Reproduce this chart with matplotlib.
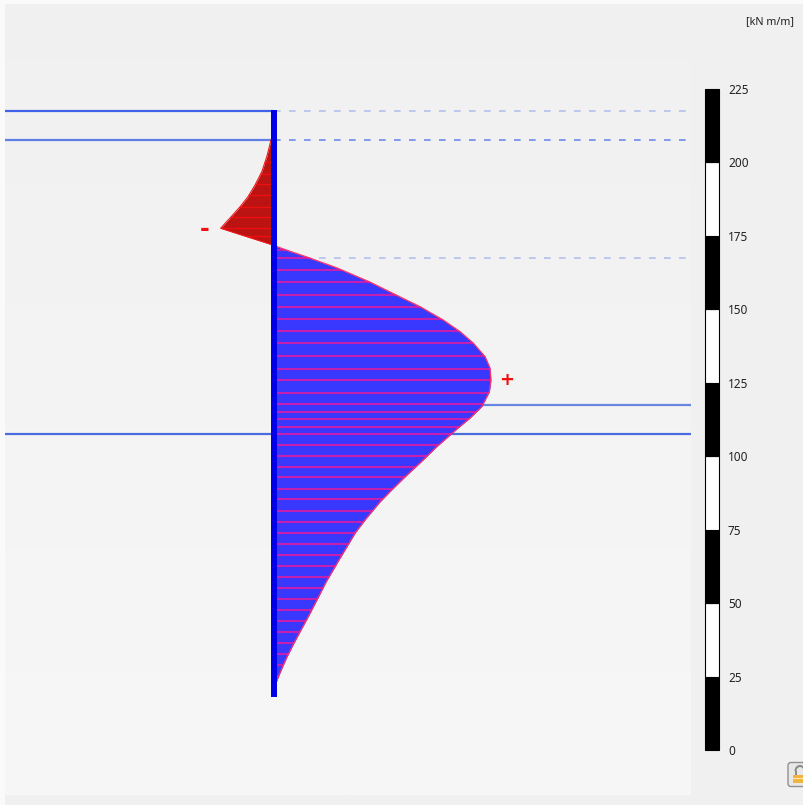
import matplotlib
matplotlib.use("Agg")
import matplotlib.pyplot as plt
import numpy as np
from matplotlib.patches import Arc, FancyBboxPatch, Rectangle

# everything is in units of the scale bar, depth 0 is the bottom of the bar
PX = 661 / 225
WALL_PX = 273.5
ZERO_PX = 750

# moment diagram, positive lobe
pos_depth = [171.9, 171.6, 170.2, 167.8, 164.1, 159.3, 154.9, 150.9, 146.4, 142.4, 138.5, 133.9,
             130.0, 125.9, 122.0, 116.9, 113.0, 109.6, 107.2, 103.2, 98.7, 93.0, 88.5, 84.5, 79.0,
             73.9, 69.2, 65.4, 62.3, 57.2, 51.7, 45.9, 40.2, 35.7, 31.7, 27.9, 23.8, 20.4]
pos_moment = [0, 0.5, 4.3, 11.4, 21.6, 32.8, 41.7, 49.9, 57.7, 63.5, 68.0, 72.0,
              73.7, 74.0, 73.5, 70.9, 66.9, 62.8, 60.1, 55.5, 50.9, 44.8, 40.2, 36.3, 31.7,
              27.8, 25.0, 22.7, 20.9, 17.9, 15.1, 12.1, 9.0, 6.6, 4.6, 2.9, 1.2, 0]

# negative lobe
neg_depth = [207.6, 201.9, 196.8, 192.3, 188.3, 184.9, 181.1, 177.6, 172.1, 171.9]
neg_moment = [-0.85, -2.3, -4.0, -6.3, -8.7, -11.4, -14.8, -18.0, -0.85, 0]

# stripes, as pixel rows
pos_ticks = [249.5, 257.5, 270, 282, 294.5, 306.5, 319, 331, 343, 355.5, 368, 380, 392.5, 404,
             412, 419, 426.5, 434, 445, 456, 466.5, 477, 488, 499, 510, 521, 532, 543, 554,
             565, 576, 587, 598, 609, 620, 631, 642, 653, 664, 675]
neg_ticks = [162, 173, 184, 195, 206, 217, 228, 236]

# layer levels
solid_levels = [217.6, 207.6, 117.6, 107.6]
dashed_levels = [217.6, 207.6, 167.6]

scale_values = [0, 25, 50, 75, 100, 125, 150, 175, 200, 225]


def main():
    fig = plt.figure(figsize=(8.04, 8.05), dpi=100, facecolor="#f0f0f0")
    ax = fig.add_axes([0, 0, 1, 1])
    ax.axis("off")
    plt.rcParams["font.family"] = "Noto Sans"

    def x_of(px):
        return (px - WALL_PX) / PX

    def y_of(py):
        return (ZERO_PX - py) / PX

    # white edge top/left and the light panel
    ax.add_patch(Rectangle((x_of(0), y_of(805)), 5 / PX, 805 / PX, color="#fafafa", lw=0, zorder=0))
    ax.add_patch(Rectangle((x_of(0), y_of(4)), 804 / PX, 4 / PX, color="#fafafa", lw=0, zorder=0))
    grad = np.linspace(0, 1, 256).reshape(-1, 1)
    cmap = matplotlib.colors.LinearSegmentedColormap.from_list("bg", ["#f1f1f1", "#f7f7f7"])
    ax.imshow(grad, cmap=cmap, aspect="auto", zorder=0.5,
              extent=(x_of(5), x_of(691), y_of(795), y_of(60)))
    ax.set_xlim(-WALL_PX / PX, (804 - WALL_PX) / PX)
    ax.set_ylim((ZERO_PX - 805) / PX, ZERO_PX / PX)

    # layer lines
    ax.hlines(solid_levels[0], x_of(5), 0, color="#3f62e8", lw=1.6, zorder=2)
    ax.hlines(solid_levels[1], x_of(5), 0, color="#5f7fe6", lw=1.6, zorder=2)
    ax.hlines(solid_levels[3], x_of(5), x_of(691), color="#4a6cdf", lw=1.6, zorder=2)
    ax.hlines(solid_levels[2], x_of(460), x_of(691), color="#6585e0", lw=1.6, zorder=2)
    ax.hlines(dashed_levels[0], 0, x_of(688), color="#b4bfec", lw=1.2, linestyles=(0, (4, 5)), zorder=2)
    ax.hlines(dashed_levels[1], 0, x_of(688), color="#6f8be8", lw=1.2, linestyles=(0, (4, 5)), zorder=2)
    ax.hlines(dashed_levels[2], 0, x_of(688), color="#b4bfec", lw=1.2, linestyles=(0, (4, 5)), zorder=2)

    # lobes
    pos = ax.fill_betweenx(pos_depth, 0, pos_moment, color="#3838ff", lw=0, zorder=3)
    neg = ax.fill_betweenx(neg_depth, 0, neg_moment, color="#bb1212", lw=0, zorder=3)
    ax.plot(pos_moment, pos_depth, color="#ff2f6a", lw=0.9, zorder=5)
    ax.plot(neg_moment, neg_depth, color="#f01818", lw=0.8, zorder=5)

    stripes = ax.hlines(y_of(np.array(pos_ticks) + 0.5), 0, 80, color="#c41fb0", lw=1.5, zorder=4)
    stripes.set_clip_path(pos.get_paths()[0], transform=ax.transData)
    stripes = ax.hlines(y_of(np.array(neg_ticks) + 0.5), -30, 0, color="#ee1010", lw=1.0, zorder=4)
    stripes.set_clip_path(neg.get_paths()[0], transform=ax.transData)

    # wall
    ax.add_patch(Rectangle((x_of(271), y_of(697)), 5.5 / PX, 587 / PX, color="#0000e6", lw=0, zorder=6))

    ax.text(x_of(204.5), y_of(229), "-", color="#f01010", fontsize=17, fontweight="bold",
            family="DejaVu Sans", ha="center", va="center", zorder=7)
    ax.text(x_of(507), y_of(380), "+", color="#f01010", fontsize=13, fontweight="bold",
            family="DejaVu Sans", ha="center", va="center", zorder=7)

    # scale bar
    for i in range(len(scale_values) - 1):
        lo, hi = scale_values[i], scale_values[i + 1]
        ax.add_patch(Rectangle((x_of(705.2), lo), 13.8 / PX, hi - lo,
                               facecolor="black" if i % 2 == 0 else "white",
                               edgecolor="black", lw=0.8, zorder=3))
    for v in scale_values:
        ax.text(x_of(728), v - 0.5, str(v), fontsize=8.5, color="#222222", ha="left", va="center", zorder=7)
    ax.text(x_of(746), y_of(22), "[kN m/m]", fontsize=7.8, color="#222222", ha="left", va="center", zorder=7)

    # lock button, cut by the right edge
    ax.add_patch(FancyBboxPatch((x_of(788), y_of(786.5)), 22 / PX, 24 / PX,
                                boxstyle="round,pad=0,rounding_size=1", facecolor="#e8e8e8",
                                edgecolor="#909090", lw=1.0, zorder=3))
    ax.add_patch(Rectangle((x_of(793), y_of(783)), 12 / PX, 8 / PX, color="#f2b440", lw=0, zorder=5))
    ax.add_patch(Rectangle((x_of(793), y_of(779)), 12 / PX, 1.5 / PX, color="#fde9b0", lw=0, zorder=6))
    ax.add_patch(Arc((x_of(800), y_of(771)), 9 / PX, 10 / PX, theta1=0, theta2=180,
                     color="#8c8c8c", lw=1.5, zorder=4))
    ax.add_patch(Rectangle((x_of(795), y_of(775)), 1.5 / PX, 4 / PX, color="#8c8c8c", lw=0, zorder=4))

    fig.savefig("out.png", dpi=100, facecolor=fig.get_facecolor())


if __name__ == "__main__":
    main()
